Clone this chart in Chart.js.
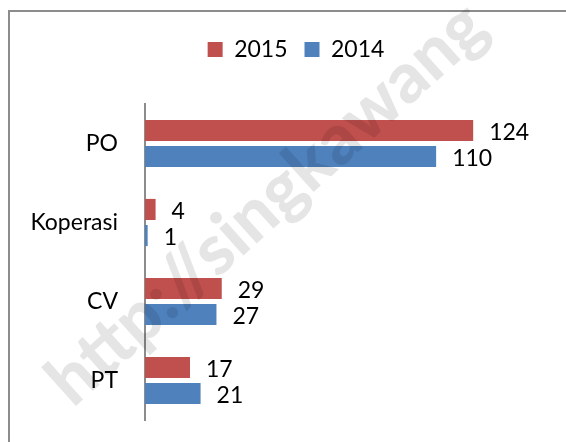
<!DOCTYPE html>
<html>
<head>
<meta charset="utf-8">
<script src="https://cdn.jsdelivr.net/npm/chart.js@4.4.0/dist/chart.umd.min.js"></script>
<style>
    html, body { margin: 0; padding: 0; background: #fff; }
    #wrap { width: 566px; height: 442px; position: relative; }
</style>
</head>
<body>
<div id="wrap"><canvas id="chart-badan"></canvas></div>
<script>
const categories = ['PO', 'Koperasi', 'CV', 'PT'];
const years = ['2015', '2014'];
const jumlah2015 = [124, 4, 29, 17];
const jumlah2014 = [110, 1, 27, 21];

const FONT = 'Lato';

// bingkai abu-abu
const frame = {
    id: 'frame',
    beforeDraw(chart) {
        const ctx = chart.ctx;
        ctx.save();
        ctx.fillStyle = '#fff';
        ctx.fillRect(0, 0, chart.width, chart.height);
        ctx.strokeStyle = '#8c8c8c';
        ctx.lineWidth = 2;
        ctx.beginPath();
        ctx.moveTo(9, chart.height);
        ctx.lineTo(9, 11);
        ctx.lineTo(chart.width, 11);
        ctx.stroke();
        ctx.restore();
    }
};

// watermark transparan di atas semuanya
const watermark = {
    id: 'watermark',
    afterDraw(chart) {
        const ctx = chart.ctx;
        ctx.save();
        ctx.translate(58, 392);
        ctx.rotate(-42 * Math.PI / 180);
        ctx.font = '900 70px ' + FONT;
        ctx.fillStyle = 'rgba(0,0,0,0.1)';
        ctx.fillText('http://singkawang', 0, 0);
        ctx.restore();
    }
};

// label nilai di ujung batang
const valueLabels = {
    id: 'valueLabels',
    afterDatasetsDraw(chart) {
        const ctx = chart.ctx;
        ctx.save();
        ctx.font = '23px ' + FONT;
        ctx.fillStyle = '#000';
        ctx.textAlign = 'left';
        ctx.textBaseline = 'middle';
        chart.data.datasets.forEach((ds, i) => {
            chart.getDatasetMeta(i).data.forEach((bar, j) => {
                ctx.fillText(ds.data[j], bar.x + 16, bar.y + 2);
            });
        });
        ctx.restore();
    }
};

// jarak legenda: tambah tinggi, geser ke kanan
const legendGap = {
    id: 'legendGap',
    beforeInit(chart) {
        const fit = chart.legend.fit;
        chart.legend.fit = function() {
            fit.bind(chart.legend)();
            this.height += 33;
        };
    },
    afterLayout(chart) {
        chart.legend.left += 25;
        chart.legend.right += 25;
    }
};

const ctx = document.getElementById('chart-badan').getContext('2d');
new Chart(ctx, {
    type: 'bar',
    data: {
        labels: categories,
        datasets: [{
            label: years[0],
            data: jumlah2015,
            backgroundColor: '#c0504d'
        }, {
            label: years[1],
            data: jumlah2014,
            backgroundColor: '#4f81bd'
        }]
    },
    options: {
        indexAxis: 'y',
        responsive: true,
        maintainAspectRatio: false,
        animation: false,
        barPercentage: 0.81,
        categoryPercentage: 0.66,
        layout: {
            padding: { top: 21, left: 0, right: 24, bottom: 22 }
        },
        scales: {
            x: {
                min: 0,
                max: 150,
                display: false
            },
            y: {
                grid: { display: false, drawTicks: false },
                border: { color: '#8c8c8c', width: 2 },
                ticks: {
                    color: '#000',
                    padding: 27,
                    font: { family: FONT, size: 23 }
                },
                afterFit(scale) {
                    scale.width = 145;
                    scale.paddingTop = 0;
                    scale.paddingBottom = 0;
                }
            }
        },
        plugins: {
            legend: {
                position: 'top',
                labels: {
                    color: '#000',
                    boxWidth: 15,
                    boxHeight: 15,
                    padding: 17,
                    font: { family: FONT, size: 23 }
                }
            },
            tooltip: { enabled: false }
        }
    },
    plugins: [frame, valueLabels, legendGap, watermark]
});
</script>
</body>
</html>
